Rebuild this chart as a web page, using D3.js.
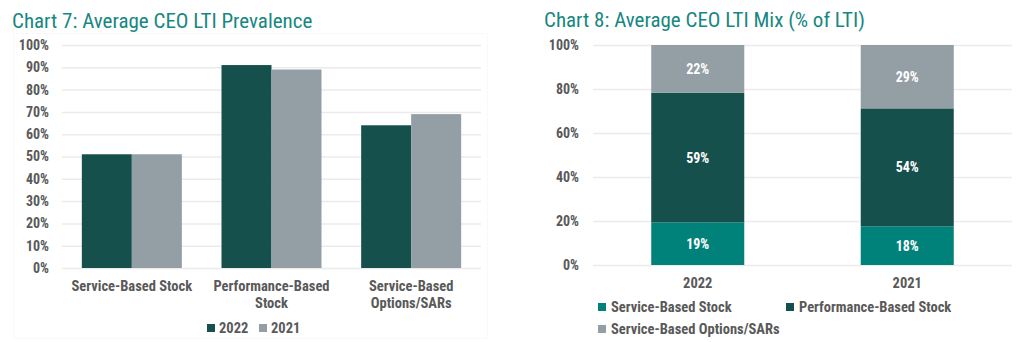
<!DOCTYPE html>
<html><head><meta charset="utf-8">
<script src="https://cdn.jsdelivr.net/npm/d3@7"></script>
<style>
html,body{margin:0;padding:0;background:#fff;}
svg{display:block;}
text{font-family:"Roboto Condensed","Liberation Sans Narrow","DejaVu Sans Condensed",Roboto,sans-serif;}
</style></head>
<body><svg id="c" width="1024" height="342"></svg>
<script>
// Chart 7 data
const prevCategories = [["Service-Based Stock"], ["Performance-Based", "Stock"], ["Service-Based", "Options/SARs"]];
const prevYears = ["2022", "2021"];
const prev2022 = [51, 91, 64];
const prev2021 = [51, 89, 69];
const prevTicks = [0, 10, 20, 30, 40, 50, 60, 70, 80, 90, 100];

// Chart 8 data
const mixYears = ["2022", "2021"];
const mixSeries = ["Service-Based Stock", "Performance-Based Stock", "Service-Based Options/SARs"];
const mixService = [19.4, 17.6];
const mixPerformance = [58.9, 53.6];
const mixOptions = [21.7, 28.8];
const mixTicks = [0, 20, 40, 60, 80, 100];

const C_DARK = "#15504d", C_GRAY = "#939ea5", C_TEAL = "#00827a", C_TITLE = "#17877f", C_TXT = "#595959", C_GRID = "#ebebeb";

const svg = d3.select("#c");

function styleAxis(ya) {
  ya.select(".domain").remove();
  ya.selectAll(".tick line").attr("stroke", C_GRID).attr("stroke-width", 1.5);
  ya.selectAll(".tick text").attr("fill", C_TXT)
    .style("font-size", "14px").style("font-weight", "bold");
}

// ---------- Chart 7 ----------
{
  const g = svg.append("g");
  g.append("rect").attr("x", 13.5).attr("y", 33.5).attr("width", 474).attr("height", 305)
    .attr("fill", "none").attr("stroke", "#f9f9f9");
  g.append("text").attr("x", 12).attr("y", 28).attr("fill", C_TITLE).style("font-size", "21px")
    .text("Chart 7: Average CEO LTI Prevalence");

  const x0 = d3.scaleBand().domain(d3.range(prevCategories.length)).range([62, 481]).paddingInner(0.284).paddingOuter(0.142);
  const x1 = d3.scaleBand().domain(prevYears).range([0, x0.bandwidth()]);
  const y = d3.scaleLinear().domain([0, 100]).range([268, 45]);

  const yAxis = d3.axisLeft(y).tickValues(prevTicks).tickFormat(d => d + "%").tickSize(-(481 - 62)).tickPadding(13);
  const ya = g.append("g").attr("transform", "translate(62,0)").call(yAxis);
  styleAxis(ya);

  const rows = prevCategories.map((c, i) => ({i, vals: [prev2022[i], prev2021[i]]}));
  const colors = {"2022": C_DARK, "2021": C_GRAY};
  const grp = g.selectAll(".grp").data(rows).join("g").attr("transform", d => `translate(${x0(d.i)},0)`);
  grp.selectAll("rect").data(d => prevYears.map((yr, k) => ({yr, v: d.vals[k]}))).join("rect")
    .attr("x", d => x1(d.yr)).attr("width", x1.bandwidth())
    .attr("y", d => y(d.v)).attr("height", d => y(0) - y(d.v))
    .attr("fill", d => colors[d.yr]);

  // x labels
  const xl = g.selectAll(".xl").data(rows).join("text")
    .attr("x", d => x0(d.i) + x0.bandwidth() / 2).attr("y", 291)
    .attr("text-anchor", "middle").attr("fill", C_TXT).style("font-size", "14.5px").style("font-weight", "bold");
  xl.selectAll("tspan").data(d => prevCategories[d.i].map((t, k) => ({t, k, x: x0(d.i) + x0.bandwidth() / 2}))).join("tspan")
    .attr("x", d => d.x).attr("dy", d => d.k ? 17 : 0).text(d => d.t);

  // legend
  const lg = g.append("g");
  const legX = [207, 259];
  prevYears.forEach((yr, k) => {
    lg.append("rect").attr("x", legX[k]).attr("y", 324).attr("width", 8).attr("height", 8).attr("fill", colors[yr]);
    lg.append("text").attr("x", legX[k] + 12).attr("y", 333).attr("fill", C_TXT).style("font-size", "14.5px").style("font-weight", "bold").text(yr);
  });
}

// ---------- Chart 8 ----------
{
  const g = svg.append("g");
  g.append("text").attr("x", 544).attr("y", 27).attr("fill", C_TITLE).style("font-size", "21px")
    .text("Chart 8: Average CEO LTI Mix (% of LTI)");

  const x = d3.scaleBand().domain(mixYears).range([593, 1012]).paddingInner(0.556).paddingOuter(0.278);
  const y = d3.scaleLinear().domain([0, 100]).range([265, 45]);

  const yAxis = d3.axisLeft(y).tickValues(mixTicks).tickFormat(d => d + "%").tickSize(-(1012 - 593)).tickPadding(14);
  const ya = g.append("g").attr("transform", "translate(593,0)").call(yAxis);
  styleAxis(ya);

  const table = mixYears.map((yr, i) => ({yr, "Service-Based Stock": mixService[i], "Performance-Based Stock": mixPerformance[i], "Service-Based Options/SARs": mixOptions[i]}));
  const stack = d3.stack().keys(mixSeries)(table);
  const colors = {"Service-Based Stock": C_TEAL, "Performance-Based Stock": C_DARK, "Service-Based Options/SARs": C_GRAY};

  const layers = g.selectAll(".layer").data(stack).join("g").attr("fill", d => colors[d.key]);
  layers.selectAll("rect").data(d => d).join("rect")
    .attr("x", d => x(d.data.yr)).attr("width", x.bandwidth())
    .attr("y", d => y(d[1])).attr("height", d => y(d[0]) - y(d[1]));
  layers.selectAll("text").data(d => d).join("text")
    .attr("x", d => x(d.data.yr) + x.bandwidth() / 2).attr("y", d => (y(d[0]) + y(d[1])) / 2 + 5)
    .attr("text-anchor", "middle").attr("fill", "#fff").style("font-size", "14px").style("font-weight", "bold")
    .text(d => Math.round(d[1] - d[0]) + "%");

  g.selectAll(".xl").data(mixYears).join("text")
    .attr("x", d => x(d) + x.bandwidth() / 2).attr("y", 288).attr("text-anchor", "middle")
    .attr("fill", C_TXT).style("font-size", "14.5px").style("font-weight", "bold").text(d => d);

  const legPos = [[598, 303], [786, 303], [598, 325]];
  mixSeries.forEach((s, k) => {
    g.append("rect").attr("x", legPos[k][0]).attr("y", legPos[k][1]).attr("width", 8).attr("height", 8).attr("fill", colors[s]);
    g.append("text").attr("x", legPos[k][0] + 13).attr("y", legPos[k][1] + 9).attr("fill", C_TXT).style("font-size", "14.5px").style("font-weight", "bold").text(s);
  });
}
</script></body></html>
